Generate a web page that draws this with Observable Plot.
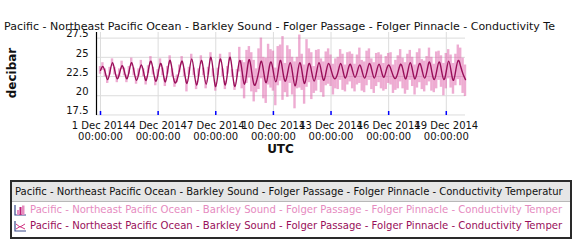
<!DOCTYPE html>
<html>
<head>
<meta charset="utf-8">
<script src="https://cdn.jsdelivr.net/npm/d3@7"></script>
<script src="https://cdn.jsdelivr.net/npm/@observablehq/plot@0.6"></script>
<style>
  html, body { margin: 0; padding: 0; background: #fff; }
  #wrap { position: relative; width: 580px; height: 250px; overflow: hidden; font-family: "DejaVu Sans", sans-serif; }
  #legend { position: absolute; left: 10px; top: 180px; width: 558px; height: 55px; border: 2px solid #2a2a2a; background: #fff; overflow: hidden; }
  #legend .hdr { height: 19px; line-height: 19px; background: #e6e6e6; border-bottom: 1px solid #b8b8b8; padding-left: 3px; font-size: 10px; color: #111; white-space: nowrap; overflow: hidden; }
  #legend .row { height: 16px; line-height: 16px; font-size: 10.1px; white-space: nowrap; overflow: hidden; padding-left: 2px; display: flex; align-items: center; }
  #legend .row svg { flex: none; margin-right: 4px; }
</style>
</head>
<body>
<div id="wrap"><div id="chart"></div><div id="legend"></div></div>
<script>
const titleText = "Pacific - Northeast Pacific Ocean - Barkley Sound - Folger Passage - Folger Pinnacle - Conductivity Te";
const legendTitle = "Pacific - Northeast Pacific Ocean - Barkley Sound - Folger Passage - Folger Pinnacle - Conductivity Temperatur";
const yLabel = "decibar";
const xLabel = "UTC";
const seriesNames = [
  "Pacific - Northeast Pacific Ocean - Barkley Sound - Folger Passage - Folger Pinnacle - Conductivity Temper",
  "Pacific - Northeast Pacific Ocean - Barkley Sound - Folger Passage - Folger Pinnacle - Conductivity Temper"
];
const seriesColors = ["#e68bbf", "#990f5a"];

// 3-hourly samples from 1 Dec 2014 00:00 UTC to 20 Dec 2014 00:00 UTC
const meanValues = [
  23.3, 23.8, 23.0, 22.1, 23.2, 24.3, 23.2, 22.2,
  23.0, 23.9, 23.1, 22.2, 23.3, 24.3, 23.1, 22.0,
  23.0, 24.0, 23.0, 22.0, 23.4, 24.5, 23.2, 21.9,
  22.9, 24.2, 23.1, 21.8, 23.3, 24.6, 23.0, 21.7,
  22.2, 23.5, 24.5, 23.0, 21.6, 23.2, 24.8, 23.1,
  21.4, 23.0, 24.6, 23.1, 21.5, 23.2, 25.0, 23.0,
  21.2, 23.1, 24.8, 23.0, 21.4, 23.3, 25.0, 22.9,
  21.2, 22.9, 24.6, 23.1, 21.5, 23.2, 24.7, 23.0,
  21.4, 21.9, 23.3, 24.5, 23.0, 21.7, 23.2, 24.4,
  23.1, 21.8, 23.2, 24.6, 23.0, 21.9, 23.1, 24.3,
  22.9, 21.3, 22.8, 24.3, 23.0, 21.6, 23.1, 24.2,
  23.0, 21.9, 23.1, 24.3, 23.1, 22.0, 23.2, 24.2,
  23.4, 22.4, 22.3, 23.2, 24.2, 23.2, 22.3, 23.3,
  24.1, 23.2, 22.4, 23.2, 24.0, 23.1, 22.3, 23.2,
  24.2, 23.3, 22.3, 23.2, 24.1, 23.2, 22.4, 23.3,
  24.0, 23.4, 22.5, 22.3, 23.2, 24.1, 23.3, 22.2,
  23.2, 24.3, 23.2, 22.2, 23.3, 24.2, 23.2, 22.3,
  23.3, 24.4, 23.1, 22.1, 23.2, 24.4, 23.3, 22.1,
  23.2, 24.5, 23.2, 22.0, 23.4, 24.6, 23.8, 22.8,
  22.1
];
const maxValues = [
  23.8, 24.3, 23.5, 22.6, 23.7, 24.8, 23.7, 22.7,
  23.5, 24.5, 23.6, 22.7, 23.8, 24.9, 23.6, 22.5,
  23.5, 24.6, 23.5, 22.5, 23.9, 25.1, 23.7, 22.4,
  23.4, 24.8, 23.6, 22.3, 23.8, 25.2, 23.5, 22.2,
  22.7, 24.0, 25.1, 23.5, 22.1, 23.7, 25.4, 23.6,
  21.9, 23.5, 25.2, 23.6, 22.0, 23.7, 25.6, 23.5,
  21.7, 23.6, 25.4, 23.5, 21.9, 23.8, 25.6, 23.4,
  21.7, 23.4, 26.3, 24.6, 24.3, 25.9, 26.4, 25.6,
  24.6, 23.5, 26.1, 27.5, 25.0, 24.9, 26.7, 26.0,
  25.8, 23.6, 26.4, 26.6, 27.7, 24.2, 26.5, 26.0,
  25.0, 24.4, 25.0, 27.9, 25.4, 24.0, 27.3, 26.1,
  25.6, 23.8, 25.9, 26.0, 24.8, 24.4, 25.7, 26.1,
  25.3, 24.1, 24.8, 25.0, 26.0, 25.4, 24.0, 25.6,
  25.7, 25.4, 24.1, 25.3, 26.2, 24.6, 24.4, 25.8,
  26.1, 24.8, 24.3, 25.5, 25.6, 25.3, 24.2, 25.1,
  25.5, 25.6, 24.0, 24.6, 25.2, 26.0, 24.9, 24.3,
  25.4, 25.9, 25.0, 24.0, 25.6, 26.1, 24.7, 24.5,
  25.1, 26.2, 25.0, 24.1, 25.7, 25.8, 25.2, 24.2,
  25.5, 26.0, 25.3, 24.2, 25.4, 26.6, 26.2, 24.9,
  24.0
];
const minValues = [
  22.8, 23.3, 22.5, 21.6, 22.7, 23.8, 22.7, 21.7,
  22.5, 23.4, 22.6, 21.7, 22.8, 23.8, 22.6, 21.5,
  22.5, 23.5, 22.5, 21.4, 22.9, 24.0, 22.7, 21.3,
  22.4, 23.7, 22.6, 21.2, 22.8, 24.1, 22.5, 21.1,
  21.7, 23.0, 24.0, 22.5, 20.5, 22.7, 24.3, 22.6,
  20.8, 22.5, 24.1, 22.6, 20.9, 22.7, 24.5, 22.5,
  20.6, 22.6, 24.3, 22.5, 20.8, 22.8, 24.5, 22.4,
  20.7, 22.4, 23.1, 20.9, 19.6, 21.6, 22.3, 20.5,
  19.2, 20.4, 20.8, 22.2, 19.6, 19.0, 21.4, 21.0,
  20.6, 18.7, 21.3, 21.9, 19.4, 20.4, 19.8, 21.6,
  20.1, 18.3, 20.9, 21.0, 20.7, 18.9, 21.1, 21.7,
  19.5, 20.3, 20.6, 22.0, 20.4, 19.8, 21.3, 21.5,
  21.2, 20.1, 20.9, 20.8, 22.0, 20.7, 20.5, 21.4,
  21.8, 20.9, 20.5, 21.4, 21.6, 20.6, 20.4, 21.3,
  22.0, 20.8, 20.3, 21.2, 21.7, 20.9, 20.6, 20.8,
  21.6, 21.4, 20.3, 20.7, 20.9, 21.8, 20.9, 20.2,
  20.7, 22.0, 21.2, 20.1, 21.0, 21.7, 20.8, 20.5,
  21.3, 21.8, 20.6, 20.4, 20.9, 22.0, 21.1, 20.0,
  20.9, 22.2, 21.0, 20.2, 21.3, 22.1, 21.3, 20.3,
  19.9
];
const startTime = "2014-12-01T00:00:00Z";
const stepHours = 3;
const xDomain = ["2014-11-30T19:00:00Z", "2014-12-20T00:00:00Z"];
const yDomain = [17.43, 28.23];
const xTicks = ["2014-12-01T00:00:00Z", "2014-12-04T00:00:00Z", "2014-12-07T00:00:00Z", "2014-12-10T00:00:00Z", "2014-12-13T00:00:00Z", "2014-12-16T00:00:00Z", "2014-12-19T00:00:00Z"];
const yTicks = [17.5, 20, 22.5, 25, 27.5];

const t0 = new Date(startTime).getTime();
const half = stepHours * 3600e3 / 2;
const rows = meanValues.map((v, i) => {
  const t = t0 + i * stepHours * 3600e3;
  return { t: new Date(t), t1: new Date(t - half), t2: new Date(t + half), mean: v, lo: minValues[i], hi: maxValues[i] };
});
const xTickDates = xTicks.map(s => new Date(s));
const fmt = d3.utcFormat("%-d %b %Y\n%H:%M:%S");

const W = 580, H = 250, mL = 96, mR = 115, mT = 32, mB = 135;
const plot = Plot.plot({
  width: W, height: H,
  marginLeft: mL, marginRight: mR, marginTop: mT, marginBottom: mB,
  style: { fontFamily: "DejaVu Sans", fontSize: "10px", background: "white", overflow: "visible", color: "#111" },
  x: { type: "utc", domain: xDomain.map(s => new Date(s)) },
  y: { domain: yDomain },
  marks: [
    Plot.gridY(yTicks, { stroke: "#dcdcdc", strokeOpacity: 1 }),
    Plot.gridX(xTickDates, { stroke: "#dcdcdc", strokeOpacity: 1 }),
    Plot.rectY(rows, { x1: "t1", x2: "t2", y1: "lo", y2: "hi", fill: "#dd5aa6", fillOpacity: 0.5 }),
    Plot.lineY(rows, { x: "t", y: "mean", stroke: seriesColors[1], strokeWidth: 1.4, curve: "natural" }),
    Plot.tickX(xTickDates, { x: d => d, stroke: "#0000ff", strokeWidth: 1.5, insetTop: H - mT - mB - 4 }),
    Plot.ruleX([new Date(xDomain[0])], { stroke: "#000", strokeWidth: 1.2 }),
    Plot.axisY(yTicks, { tickSize: 0, tickPadding: 8, dy: -4, label: null, tickFormat: d => String(d) }),
    Plot.axisX(xTickDates, { tickSize: 0, tickPadding: 5, label: null, tickFormat: fmt, lineHeight: 1.15 })
  ]
});
document.getElementById("chart").appendChild(plot);

const svg = d3.select(plot);
svg.append("text").attr("x", 4).attr("y", 30).attr("text-anchor", "start")
  .attr("font-family", "DejaVu Sans").attr("font-size", 11).attr("fill", "#111")
  .text(titleText);
svg.append("text").attr("transform", "translate(12,73) rotate(-90)")
  .attr("text-anchor", "middle").attr("dominant-baseline", "central")
  .attr("font-family", "DejaVu Sans").attr("font-weight", "bold").attr("font-size", 12).attr("fill", "#111")
  .text(yLabel);
svg.append("text").attr("x", (mL + W - mR) / 2).attr("y", 149)
  .attr("text-anchor", "middle").attr("dominant-baseline", "central")
  .attr("font-family", "DejaVu Sans").attr("font-weight", "bold").attr("font-size", 12).attr("fill", "#111")
  .text(xLabel);

// legend
const legend = document.getElementById("legend");
const hdr = document.createElement("div");
hdr.className = "hdr";
hdr.textContent = legendTitle;
legend.appendChild(hdr);
const icons = [
  `<svg width="12" height="11" viewBox="0 0 12 11"><path d="M1 0V10H12" fill="none" stroke="#3b4a8c" stroke-width="1.2"/><rect x="3" y="5" width="2" height="5" fill="#e68bbf"/><rect x="5.5" y="2" width="2" height="8" fill="#c0207a"/><rect x="8" y="0.5" width="2.5" height="9.5" fill="#e68bbf"/></svg>`,
  `<svg width="12" height="11" viewBox="0 0 12 11"><path d="M1 0V10H12" fill="none" stroke="#3b4a8c" stroke-width="1.2"/><path d="M2 3L6 6L11 3M2 8L6 5.5L11 8" fill="none" stroke="#d0307f" stroke-width="1"/></svg>`
];
seriesNames.forEach((name, i) => {
  const r = document.createElement("div");
  r.className = "row";
  r.style.color = seriesColors[i];
  r.innerHTML = icons[i];
  const s = document.createElement("span");
  s.textContent = name;
  r.appendChild(s);
  legend.appendChild(r);
});
</script>
</body>
</html>
